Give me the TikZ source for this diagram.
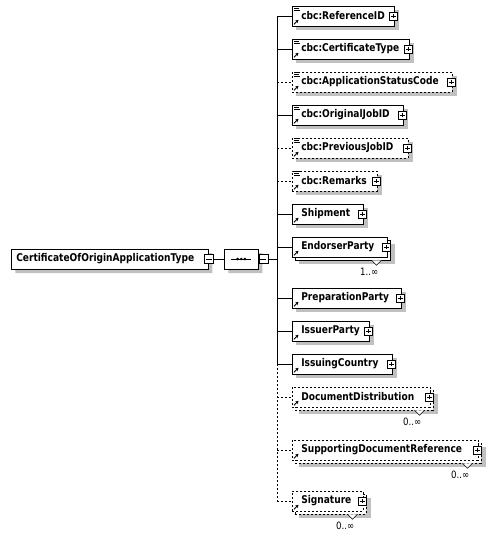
\documentclass[tikz,border=0pt]{standalone}
\usepackage{fontspec}
\setmainfont{DejaVu Sans}[FakeStretch=0.85]
\usetikzlibrary{shapes.misc,arrows.meta}
\pgfdeclarelayer{background}
\pgfsetlayers{background,main}
\definecolor{shadowgray}{HTML}{C0C0C0}
\tikzset{
  box/.style={draw, fill=white, inner sep=0pt, minimum height=15pt, anchor=west},
  opt/.style={dash pattern=on 1.5pt off 1.5pt},
  chbox/.style={chamfered rectangle, chamfered rectangle xsep=#1, chamfered rectangle ysep=#1},
  lbl/.style={font=\fontsize{8}{9}\selectfont\bfseries, inner sep=0pt, anchor=west},
  mult/.style={font=\fontsize{7.6}{9}\selectfont, inner sep=0pt},
  pm/.style={draw, fill=white, minimum size=6pt, inner sep=0pt,
    path picture={\draw[line width=0.6pt] ([yshift=-1.2pt]path picture bounding box.north) -- ([yshift=1.2pt]path picture bounding box.south);
                  \draw[line width=0.6pt] ([xshift=1.2pt]path picture bounding box.west) -- ([xshift=-1.2pt]path picture bounding box.east);}},
  mn/.style={draw, fill=white, minimum size=6.75pt, inner sep=0pt,
    path picture={\draw[line width=0.6pt] ([xshift=1.2pt]path picture bounding box.west) -- ([xshift=-1.2pt]path picture bounding box.east);}},
  refarrow/.style={line width=0.7pt, -{Stealth[length=2.4pt,width=2.6pt]}}
}
\newcommand\shadowrect[1]{%
  \begin{pgfonlayer}{background}
  \fill[shadowgray] ([shift={(4,4)}]#1.north west) rectangle ([shift={(4,4)}]#1.south east);
  \end{pgfonlayer}}
\newcommand\refmark[1]{\draw[refarrow] ([shift={(2,-2)}]#1.south west) -- ++(4.5,-4.5);}
\newcommand\simplemark[1]{%
  \draw[line width=0.6pt] ([shift={(2,1)}]#1.north west) -- ++(6,0)
    ([shift={(2,3)}]#1.north west) -- ++(5,0)
    ([shift={(2,5)}]#1.north west) -- ++(6,0);}
\newcommand\kid[5]{% name, right x, y, style, text
  \node[box, #4, minimum width={(#2-292)*0.75pt}] (#1) at (292,#3) {};
  \shadowrect{#1}
  \node[lbl] (#1-t) at (301,#3) {#5};
  \node[pm] (#1-p) at ([xshift=-1pt]#1.east) {};
  \refmark{#1}}
\newcommand\kidm[6]{% name, front right x, y, style, text, multiplicity
  \node[box, #4, minimum width={(#2-292)*0.75pt}] (#1-b) at (295,#3+3) {};
  \shadowrect{#1-b}
  \node[box, #4, minimum width={(#2-292)*0.75pt}] (#1) at (292,#3) {};
  \node[lbl] (#1-t) at (301,#3) {#5};
  \node[pm] (#1-p) at ([xshift=-1pt]#1.east) {};
  \draw[fill=white] ([xshift=-14.25pt]#1-b.south east) -- ++(5,5) -- ++(5,-5);
  \node[mult] (#1-m) at ([xshift=-16pt, yshift=-8.5pt]#1-b.south east) {#6};
  \refmark{#1}}
\begin{document}
\begin{tikzpicture}[x=0.75pt, y=-0.75pt, line width=0.75pt]
\useasboundingbox (0,0) rectangle (494,536);

% root element
\node[box, chbox=2pt, minimum width={197*0.75pt}] (root) at (11,259) {};
\begin{pgfonlayer}{background}
\node[box, chbox=2pt, draw=none, fill=shadowgray, minimum width={197*0.75pt}] (root-s) at ([shift={(4,4)}]root.west) {};
\end{pgfonlayer}
\node[lbl] (root-t) at (16,259) {CertificateOfOriginApplicationType};
\node[mn] (root-m) at (root.east) {};

% sequence compositor
\node[box, chbox=4pt, minimum width={34*0.75pt}] (seq) at (224,259) {};
\begin{pgfonlayer}{background}
\node[box, chbox=4pt, draw=none, fill=shadowgray, minimum width={34*0.75pt}] (seq-s) at ([shift={(4,4)}]seq.west) {};
\end{pgfonlayer}
\draw[line width=0.7pt] ([xshift=-7.5pt]seq.center) -- ([xshift=7.5pt]seq.center);
\fill ([xshift=-2.7pt]seq.center) circle[radius=1.1pt];
\fill (seq.center) circle[radius=1.1pt];
\fill ([xshift=2.7pt]seq.center) circle[radius=1.1pt];
\node[mn, anchor=west] (seq-m) at (seq.east) {};

\draw (root-m.east) -- (seq.west);
\coordinate (bartop) at (277,16);
\coordinate (barmid) at (277,364);
\coordinate (barbot) at (277,502);
\draw (seq-m.east) -- (seq-m.east -| bartop);
\draw (bartop) -- (barmid);
\draw[opt] (barmid) -- (barbot);

% children
\kid{c1}{394}{16}{}{cbc:ReferenceID}\simplemark{c1}
\kid{c2}{409}{49}{}{cbc:CertificateType}\simplemark{c2}
\kid{c3}{452}{82}{opt}{cbc:ApplicationStatusCode}\simplemark{c3}
\kid{c4}{403}{115}{}{cbc:OriginalJobID}\simplemark{c4}
\kid{c5}{408}{148}{opt}{cbc:PreviousJobID}\simplemark{c5}
\kid{c6}{377}{181}{opt}{cbc:Remarks}\simplemark{c6}
\kid{c7}{363}{214}{}{Shipment}
\kidm{c8}{387}{247}{}{EndorserParty}{1..∞}
\kid{c9}{401}{298}{}{PreparationParty}
\kid{c10}{369}{331}{}{IssuerParty}
\kid{c11}{392}{364}{}{IssuingCountry}
\kidm{c12}{430}{397}{opt}{DocumentDistribution}{0..∞}
\kidm{c13}{478}{450}{opt}{SupportingDocumentReference}{0..∞}
\kidm{c14}{363}{501}{opt}{Signature}{0..∞}

% connectors
\foreach \n in {c1,c2,c4,c7,c8,c9,c10,c11} {\draw (\n.west -| bartop) -- (\n.west);}
\foreach \n in {c3,c5,c6,c12,c13,c14} {\draw[opt] (\n.west -| bartop) -- (\n.west);}
\end{tikzpicture}
\end{document}
